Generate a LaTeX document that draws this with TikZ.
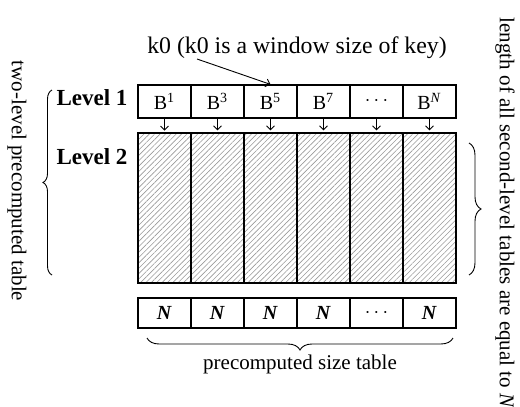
\documentclass[tikz,border=0pt]{standalone}
\usepackage{fontspec}
\setmainfont{Liberation Serif}
\usetikzlibrary{patterns.meta,decorations.pathreplacing,arrows.meta}

\begin{document}
\begin{tikzpicture}[x=0.5pt,y=-0.5pt,
  txt/.style={font=\fontsize{10.5}{12}\selectfont, inner sep=0pt},
  bigtxt/.style={font=\fontsize{11.9}{14}\selectfont, inner sep=0pt},
  lvl/.style={font=\fontsize{11.5}{13}\selectfont\bfseries, inner sep=0pt},
  topcell/.style={draw, line width=0.6pt, minimum width=26.5pt, minimum height=16.5pt,
    inner sep=0pt, font=\fontsize{10}{12}\selectfont},
  hatchcol/.style={draw, line width=0.6pt, minimum width=26.5pt, minimum height=75pt,
    inner sep=0pt, pattern={Lines[angle=45,distance=1.9pt,line width=0.3pt]},
    pattern color=gray!80},
  sizecell/.style={draw, line width=0.6pt, minimum width=26.5pt, minimum height=15pt,
    inner sep=0pt, font=\fontsize{10}{12}\selectfont},
  arr/.style={-{Straight Barb[length=2pt,width=4pt]}, line width=0.45pt},
  bracestyle/.style={decorate, line width=0.45pt},
]
\useasboundingbox (0,0) rectangle (520,407);

% first level: the window entries
\foreach \i/\lab in {1/B\textsuperscript{1}, 2/B\textsuperscript{3}, 3/B\textsuperscript{5},
                     4/B\textsuperscript{7}, 5/$\cdots$, 6/B\textsuperscript{\textit{N}}} {
  \node[topcell] (b\i) at ({164.5+53*(\i-1)},101.5) {\lab};
}

% second level: hatched tables
\foreach \i in {1,...,6} {
  \node[hatchcol] (h\i) at ({164.5+53*(\i-1)},208) {};
  \draw[arr, shorten >=1pt] (b\i.south) -- (h\i.north);
}

% size table
\foreach \i/\lab in {1/\textbf{\textit{N}}, 2/\textbf{\textit{N}}, 3/\textbf{\textit{N}},
                     4/\textbf{\textit{N}}, 5/$\cdots$, 6/\textbf{\textit{N}}} {
  \node[sizecell] (s\i) at ({164.5+53*(\i-1)},313) {\lab};
}

% key window annotation
\node[bigtxt] (ktext) at (297,48) {k0 (k0 is a window size of key)};
\coordinate (kstart) at (197,59);
\draw[arr] (kstart) -- (b3.north);

% level labels
\node[lvl] (l1) at (92,98) {Level 1};
\node[lvl] (l2) at (92,157) {Level 2};

% braces
\coordinate (lb1) at (52,275);
\coordinate (lb2) at (52,90);
\draw[bracestyle, decoration={brace,amplitude=4.5pt}] (lb1) -- (lb2);
\node[txt, rotate=-90] (ltext) at (17,181) {two-level precomputed table};

\coordinate (rb1) at (469,143);
\coordinate (rb2) at (469,275);
\draw[bracestyle, decoration={brace,amplitude=6pt}] (rb1) -- (rb2);
\node[txt, rotate=-90] (rtext) at (505,213) {length of all second-level tables are equal to \textit{N}};

\coordinate (bb1) at (453,338);
\coordinate (bb2) at (147,338);
\draw[bracestyle, decoration={brace,amplitude=6pt}] (bb1) -- (bb2);
\node[txt] (btext) at (300,364) {precomputed size table};
\end{tikzpicture}
\end{document}
